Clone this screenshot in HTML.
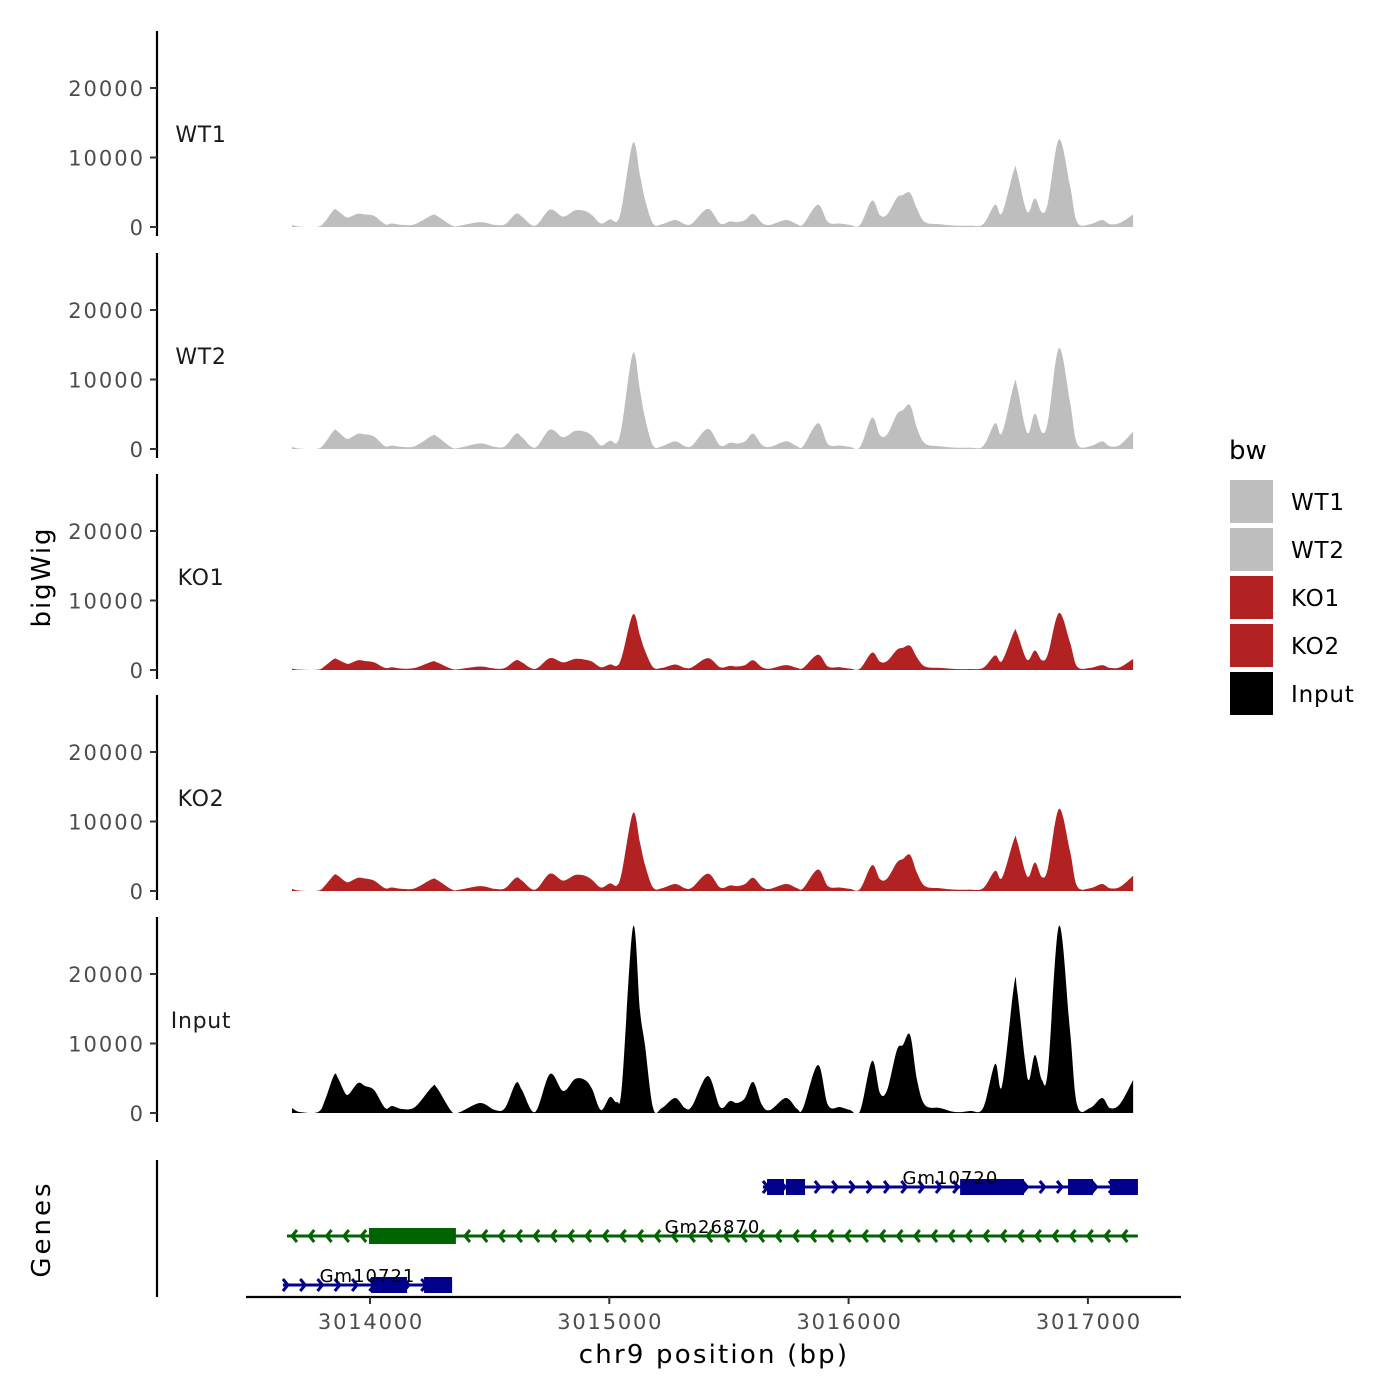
<!DOCTYPE html>
<html><head><meta charset="utf-8"><style>
body{margin:0;background:#fff;}
svg{display:block;font-family:"DejaVu Sans","Liberation Sans",sans-serif;}
</style></head><body>
<svg id="chart" width="1400" height="1400" viewBox="0 0 1400 1400">
<g id="tracks"></g>
<g id="genes"></g>
<g id="xaxis"></g>
<text x="50" y="577" transform="rotate(-90 50 577)" text-anchor="middle" font-size="26" letter-spacing="2" fill="#000">bigWig</text>
<text x="50" y="1229" transform="rotate(-90 50 1229)" text-anchor="middle" font-size="26" letter-spacing="3" fill="#000">Genes</text>
<text x="714" y="1363" text-anchor="middle" font-size="26" letter-spacing="2.2" fill="#000">chr9 position (bp)</text>
<g id="legend"><text x="1229" y="459" font-size="26">bw</text></g>
</svg>
<script>
const positions=[3013674,3013707,3013783,3013812,3013850,3013866,3013896,3013912,3013950,3013979,3014017,3014063,3014092,3014134,3014188,3014259,3014280,3014343,3014376,3014460,3014522,3014564,3014610,3014635,3014690,3014752,3014807,3014857,3014898,3014928,3014965,3015003,3015032,3015053,3015099,3015128,3015149,3015183,3015220,3015275,3015316,3015346,3015412,3015463,3015504,3015534,3015567,3015601,3015638,3015672,3015738,3015785,3015810,3015872,3015914,3015964,3016006,3016048,3016098,3016131,3016161,3016202,3016227,3016257,3016286,3016319,3016382,3016445,3016507,3016562,3016612,3016641,3016691,3016704,3016737,3016754,3016779,3016808,3016833,3016879,3016925,3016955,3017009,3017059,3017092,3017134,3017189];
const inputVals=[720,140,140,1870,5470,5040,2880,2730,4320,3890,3310,720,1010,580,860,3740,3600,140,140,1440,430,720,4320,3310,140,5610,3170,4890,4750,3450,430,2300,1580,4030,26770,14820,9790,720,720,2160,720,1010,5320,860,1730,1440,2160,4460,1150,430,2160,580,720,6910,1150,860,430,290,7480,2880,3310,9070,9790,11220,4750,1150,720,140,290,720,7050,3890,18280,17700,7630,4750,8350,4750,6190,26910,11940,1150,720,2160,720,1300,4750];
const wt1Vals=[300,50,50,800,2500,2300,1500,1400,1900,1800,1600,400,500,300,400,1700,1600,200,200,700,300,400,1900,1500,200,2500,1500,2400,2300,1700,500,1100,800,3000,12100,7500,4000,500,400,1000,400,500,2600,500,800,700,1000,1900,600,300,1000,400,400,3200,700,500,300,300,3800,1700,1800,4200,4600,4900,2600,700,400,200,200,400,3200,2000,8200,7900,3000,2200,4100,2100,3500,12600,6000,700,400,1000,400,600,1800];
const wt2Vals=[300,50,50,900,2700,2500,1600,1500,2200,2100,1800,400,500,300,400,1900,1800,200,200,800,300,400,2200,1700,200,2800,1700,2600,2500,1900,500,1200,900,3500,13800,8500,4500,500,400,1100,400,500,2900,500,900,800,1100,2200,600,300,1100,400,400,3700,700,500,300,300,4500,2000,2100,5000,5600,6300,3000,800,400,200,200,400,3700,2300,9300,9000,3300,2400,5100,2400,4000,14500,6800,800,400,1100,400,600,2500];
const ko1Vals=[200,50,50,600,1600,1500,1000,900,1400,1300,1100,300,400,200,300,1200,1100,150,150,500,200,300,1400,1100,150,1700,1100,1600,1500,1200,400,800,600,2000,8000,5000,2800,400,300,800,300,400,1700,400,600,500,700,1400,400,200,700,300,300,2200,500,400,200,200,2500,1200,1300,2900,3200,3500,1800,500,300,150,150,300,2100,1300,5500,5300,2000,1500,2800,1400,2300,8200,4000,500,300,700,300,400,1600];
const ko2Vals=[300,50,50,800,2300,2200,1400,1300,1900,1800,1500,400,500,300,400,1700,1600,200,200,700,300,400,1900,1500,200,2500,1500,2300,2200,1600,500,1100,800,2800,11200,7000,3800,500,400,1000,400,500,2500,500,800,700,1000,1900,600,300,1000,400,400,3100,700,500,300,300,3700,1700,1800,4100,4600,5200,2600,700,400,200,200,400,2900,1900,7400,7200,2900,2100,4100,2000,3300,11800,5800,700,400,1000,400,600,2200];
const trackNames=["WT1","WT2","KO1","KO2","Input"];
const trackColors=["#bebebe","#bebebe","#b22222","#b22222","#000000"];
const seriesVals=[wt1Vals,wt2Vals,ko1Vals,ko2Vals,inputVals];
const yTicks=[0,10000,20000];
const xTicks=[3014000,3015000,3016000,3017000];
const xTickLabels=["3014000","3015000","3016000","3017000"];
const genes=[
 {name:"Gm10720",start:3015642,end:3017209,strand:"+",row:0,color:"#00008b",exons:[[3015659,3015730],[3015738,3015818],[3016466,3016733],[3016917,3017021],[3017092,3017209]]},
 {name:"Gm26870",start:3013653,end:3017209,strand:"-",row:1,color:"#006400",exons:[[3013996,3014359]]},
 {name:"Gm10721",start:3013636,end:3014343,strand:"+",row:2,color:"#00008b",exons:[[3014004,3014155],[3014226,3014343]]}
];
const NS="http://www.w3.org/2000/svg";
function mk(tag,attrs,parent){const e=document.createElementNS(NS,tag);for(const k in attrs)e.setAttribute(k,attrs[k]);parent.appendChild(e);return e;}
const xs=bp=>370+(bp-3014000)*0.2393;
const yScale=v=>v*0.00695;
const panelZero=[227,449,670,891,1113];
const tg=document.getElementById('tracks');
const defs=mk('defs',{},document.getElementById('chart'));
trackNames.forEach((nm,i)=>{
 const z=panelZero[i];
 const g=mk('g',{},tg);
 
 
 const ax=mk('line',{x1:157,x2:157,y1:z-196,y2:z+9,stroke:'#000','stroke-width':2.2},g);
 
 yTicks.forEach(t=>{const y=z-yScale(t);
  mk('line',{x1:150,x2:157,y1:y,y2:y,stroke:'#333','stroke-width':2},g);
  const tx=mk('text',{x:145,y:y+8,'text-anchor':'end','font-size':21,'letter-spacing':2,fill:'#4d4d4d'},g);tx.textContent=t;
  });
 const lb=mk('text',{x:201,y:z-85,'text-anchor':'middle','font-size':22,'letter-spacing':0.7,fill:'#1a1a1a'},g);lb.textContent=nm;
 
 const cp=mk('clipPath',{id:'cp'+i},defs);mk('rect',{x:280,y:z-250,width:900,height:250},cp);
 const vals=seriesVals[i];
 const P=positions.map((p,k)=>[xs(p),z-yScale(vals[k])]);
 let d=`M${P[0][0]},${z}L${P[0][0]},${P[0][1]}`;
 for(let k=0;k<P.length-1;k++){const p0=P[Math.max(0,k-1)],p1=P[k],p2=P[k+1],p3=P[Math.min(P.length-1,k+2)];
  d+=`C${p1[0]+(p2[0]-p0[0])/6},${p1[1]+(p2[1]-p0[1])/6} ${p2[0]-(p3[0]-p1[0])/6},${p2[1]-(p3[1]-p1[1])/6} ${p2[0]},${p2[1]}`;}
 d+=`L${P[P.length-1][0]},${z}Z`;
 const ar=mk('path',{d:d,fill:trackColors[i],'clip-path':`url(#cp${i})`},g);
 
});
const gg=document.getElementById('genes');
const ga=mk('line',{x1:157,x2:157,y1:1160,y2:1297,stroke:'#000','stroke-width':2.2},gg);

const rowY=[1187,1236,1285];
genes.forEach(gn=>{
 const y=rowY[gn.row];const g=mk('g',{},gg);
 
 const x1=xs(gn.start),x2=xs(gn.end);
 mk('line',{x1:x1,x2:x2,y1:y,y2:y,stroke:gn.color,'stroke-width':3},g);
 for(let x=x1+5;x<=x2;x+=17.3){
  const dx=gn.strand==='+'?-5:5;
  mk('path',{d:`M${x+dx},${y-6}L${x},${y}L${x+dx},${y+6}`,fill:'none',stroke:gn.color,'stroke-width':3},g);}
 gn.exons.forEach(e=>{const r=mk('rect',{x:xs(e[0]),y:y-8,width:xs(e[1])-xs(e[0]),height:16,fill:gn.color},g);
  });
 const t=mk('text',{x:(x1+x2)/2,y:y-3,'text-anchor':'middle','font-size':18,'letter-spacing':1,fill:'#000'},g);t.textContent=gn.name;
 
});
const xg=document.getElementById('xaxis');
mk('line',{x1:246,x2:1181,y1:1297,y2:1297,stroke:'#000','stroke-width':2.2},xg);
xTicks.forEach((t,i)=>{const x=xs(t);
 mk('line',{x1:x,x2:x,y1:1297,y2:1304,stroke:'#333','stroke-width':2},xg);
 const tx=mk('text',{x:x+1,y:1329,'text-anchor':'middle','font-size':21,'letter-spacing':1.8,fill:'#4d4d4d'},xg);tx.textContent=xTickLabels[i];
 });
const lg=document.getElementById('legend');
trackNames.forEach((nm,i)=>{const y=480+i*48;
 const r=mk('rect',{x:1230,y:y,width:43,height:43,fill:trackColors[i]},lg);
 
 const t=mk('text',{x:1291,y:y+30,'font-size':23,'letter-spacing':0.8,fill:'#000'},lg);t.textContent=nm;
 });
</script>
</body></html>
